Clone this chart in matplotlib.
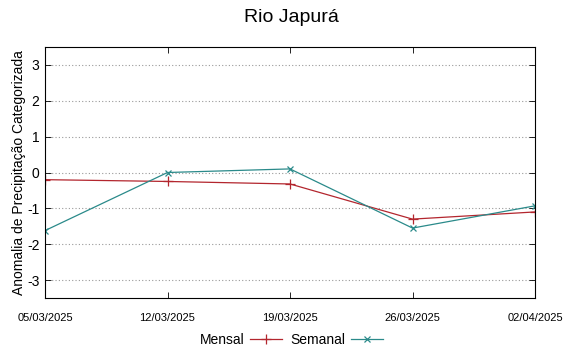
import matplotlib
matplotlib.use("Agg")
import matplotlib.pyplot as plt
from matplotlib.lines import Line2D

plt.rcParams['font.family'] = ['Liberation Sans', 'DejaVu Sans']

dates = ["05/03/2025", "12/03/2025", "19/03/2025", "26/03/2025", "02/04/2025"]
mensal = [-0.2, -0.25, -0.32, -1.3, -1.1]
semanal = [-1.62, 0.0, 0.1, -1.55, -0.93]
yticks = [-3, -2, -1, 0, 1, 2, 3]

red = "#b3262e"
teal = "#2a8a8a"

fig = plt.figure(figsize=(5.83, 3.53), dpi=100)
ax = fig.add_axes([45/583, 1-298/353, 490/583, 251/353])

x = list(range(len(dates)))
ax.plot(x, mensal, color=red, lw=0.9, marker='+', ms=7, mew=0.9)
ax.plot(x, semanal, color=teal, lw=0.9, marker='x', ms=5, mew=0.9)

ax.set_xlim(0, len(dates)-1)
ax.set_ylim(-3.5, 3.5)
ax.set_xticks(x)
ax.set_xticklabels(dates, fontsize=8)
ax.set_yticks(yticks)
ax.set_yticklabels([str(v) for v in yticks], fontsize=10)
ax.tick_params(direction='in', top=True, right=True, length=4, width=0.6, pad=4)
ax.tick_params(axis='x', pad=11)
ax.yaxis.grid(True, linestyle=(0, (1, 2)), color='#999999', lw=0.8)
for s in ax.spines.values():
    s.set_linewidth(0.8)

ax.set_ylabel("Anomalia de Precipitação Categorizada", fontsize=10, labelpad=1)
fig.suptitle("Rio Japurá", fontsize=14, y=0.975)

handles = [Line2D([], [], color=red, lw=0.9, marker='+', ms=7, mew=0.9),
           Line2D([], [], color=teal, lw=0.9, marker='x', ms=5, mew=0.9)]
fig.legend(handles, ["Mensal", "Semanal"], loc='center', bbox_to_anchor=(291/583, 1-340/353),
           ncol=2, frameon=False, markerfirst=False, handlelength=2.3, fontsize=10,
           columnspacing=0.6, handletextpad=0.4)

fig.savefig("out.png", dpi=100)
